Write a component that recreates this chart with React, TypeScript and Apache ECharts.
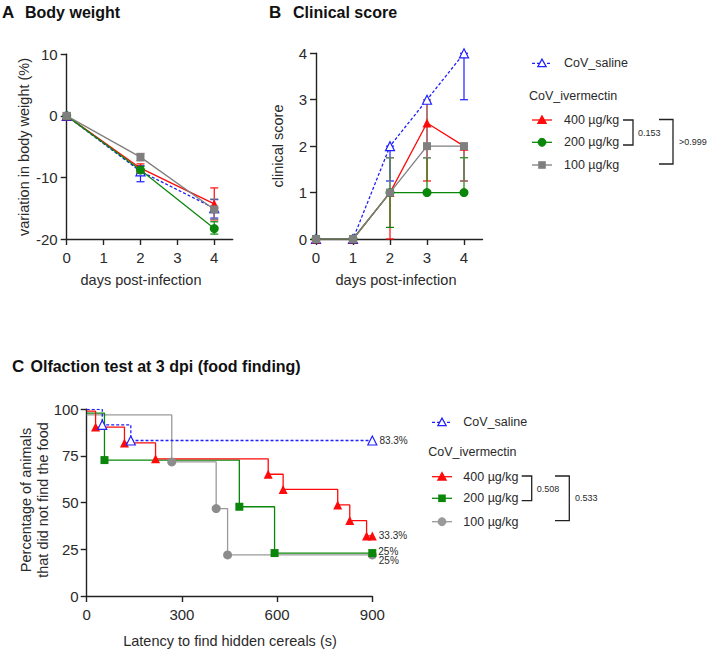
import React, { useEffect, useRef } from 'react';
import * as echarts from 'echarts';

const FONT = "'Liberation Sans', Arial, Helvetica, sans-serif";
const BLUE = '#1f1fff';
const RED = '#ff0a0a';
const GREEN = '#0a870a';
const GRAY = '#7f7f7f';
const GRAYC = '#9a9a9a';
const AX = '#222222';
const TXT = '#2a2a2a';

// ---------- Panel A: body weight ----------
const daysA = [0, 2, 4];
const xTicksAB = [0, 1, 2, 3, 4];
const bwSaline = [0, -9.0, -15.0];
const bwSalineLo = [0, -10.7, -16.6];
const bwSalineHi = [0, -8.1, -13.6];
const bw400 = [0, -8.5, -14.3];
const bw400Lo = [-0.5, -9.4, -16.9];
const bw400Hi = [0.5, -7.8, -11.7];
const bw200 = [0, -8.8, -18.3];
const bw200Lo = [0, -9.4, -19.2];
const bw200Hi = [0, -8.2, -17.2];
const bw100 = [0, -6.7, -15.2];
const bw100Lo = [0, -7.3, -16.8];
const bw100Hi = [0, -6.1, -13.5];

// ---------- Panel B: clinical score ----------
const daysB = [0, 1, 2, 3, 4];
const csSaline = [0, 0, 2, 3, 4];
const csSalineLo = [0, 0, 1.25, 3, 3];
const csSalineHi = [0, 0, 2, 3, 4];
const cs400 = [0, 0, 1, 2.5, 2];
const cs400Lo = [0, 0, 0, 1.25, 1.25];
const cs400Hi = [0, 0, 1, 3, 2];
const cs200 = [0, 0, 1, 1, 1];
const cs200Lo = [0, 0, 0.25, 1, 1];
const cs200Hi = [0, 0, 1.75, 1.75, 1.75];
const cs100 = [0, 0, 1, 2, 2];
const cs100Lo = [0, 0, 1, 1.75, 1.25];
const cs100Hi = [0, 0, 1.75, 3, 2];

// ---------- Panel C: olfaction (Kaplan-Meier) ----------
const tSaline = [0, 49, 139, 900];
const pSaline = [100, 91.7, 83.3, 83.3];
const t400 = [0, 28, 119, 217, 572, 619, 791, 829, 882, 900];
const p400 = [99, 90.5, 82, 73.5, 65.2, 57.1, 48.8, 40.4, 32.2, 32.2];
const t200 = [0, 56, 481, 592, 900];
const p200 = [98, 72.8, 47.8, 23, 23];
const t100 = [0, 268, 408, 444, 900];
const p100 = [97, 71.8, 46.8, 22, 22];
const endLabels = ['83.3%', '33.3%', '25%', '25%'];

const legendLabels = ['CoV_saline', 'CoV_ivermectin', '400 µg/kg', '200 µg/kg', '100 µg/kg'];
const pTop = ['0.153', '>0.999'];
const pBottom = ['0.508', '0.533'];

function errSeries(idx: number, xs: number[], lo: number[], hi: number[], color: string): any {
  return {
    type: 'custom',
    xAxisIndex: idx,
    yAxisIndex: idx,
    silent: true,
    z: 1,
    encode: { x: 0, y: [1, 2] },
    data: xs.map((x, i) => [x, lo[i], hi[i]]),
    renderItem: (_p: any, api: any) => {
      const x = api.value(0);
      const a = api.coord([x, api.value(1)]);
      const b = api.coord([x, api.value(2)]);
      const st = { stroke: color, lineWidth: 1.2 };
      if (Math.abs(a[1] - b[1]) < 0.5) return { type: 'group', children: [] };
      const w = 4;
      return {
        type: 'group',
        children: [
          { type: 'line', shape: { x1: a[0], y1: a[1], x2: b[0], y2: b[1] }, style: st },
          { type: 'line', shape: { x1: a[0] - w, y1: a[1], x2: a[0] + w, y2: a[1] }, style: st },
          { type: 'line', shape: { x1: b[0] - w, y1: b[1], x2: b[0] + w, y2: b[1] }, style: st },
        ],
      };
    },
  };
}

function lineSeries(idx: number, xs: number[], ys: number[], color: string, symbol: string, open: boolean, dashed: boolean, z: number): any {
  return {
    type: 'line',
    xAxisIndex: idx,
    yAxisIndex: idx,
    data: xs.map((x, i) => [x, ys[i]]),
    symbol,
    symbolSize: symbol === 'rect' ? 8 : 9,
    showSymbol: true,
    silent: true,
    z,
    lineStyle: { color, width: 1.3, type: dashed ? [3, 2] : 'solid' },
    itemStyle: open ? { color: '#ffffff', borderColor: color, borderWidth: 1.2 } : { color },
  };
}

function stepSeries(xs: number[], ys: number[], color: string, dashed: boolean, z: number): any {
  return {
    type: 'line',
    xAxisIndex: 2,
    yAxisIndex: 2,
    step: 'end',
    data: xs.map((x, i) => [x, ys[i]]),
    symbol: 'none',
    silent: true,
    z,
    lineStyle: { color, width: 1.3, type: dashed ? [3, 2] : 'solid' },
  };
}

function markerSeries(xs: number[], ys: number[], color: string, symbol: string, open: boolean, label: string, offY: number, z: number): any {
  const data: any[] = [];
  for (let i = 1; i < xs.length; i++) {
    const item: any = { value: [xs[i], ys[i]] };
    if (i === xs.length - 1) {
      item.label = {
        show: true,
        formatter: label,
        position: 'right',
        distance: 2,
        offset: [0, offY],
        color: TXT,
        fontSize: 10,
        fontFamily: FONT,
      };
    }
    data.push(item);
  }
  return {
    type: 'scatter',
    xAxisIndex: 2,
    yAxisIndex: 2,
    data,
    symbol,
    symbolSize: symbol === 'rect' ? 8 : 9,
    silent: true,
    z,
    itemStyle: open ? { color: '#ffffff', borderColor: color, borderWidth: 1.2, opacity: 1 } : { color, opacity: 1 },
  };
}

function axisBase(fontSize: number, margin: number, custom?: number[]): any {
  return {
    type: 'value',
    axisLine: { show: true, onZero: false, lineStyle: { color: AX, width: 1.4 } },
    axisTick: custom
      ? { show: true, length: 6, lineStyle: { color: AX, width: 1.4 }, customValues: custom }
      : { show: true, length: 6, lineStyle: { color: AX, width: 1.4 } },
    axisLabel: custom
      ? { color: TXT, fontSize, fontFamily: FONT, margin, customValues: custom }
      : { color: TXT, fontSize, fontFamily: FONT, margin },
    splitLine: { show: false },
  };
}

function txt(text: string, x: number, y: number, size: number, opts: any = {}): any {
  return {
    type: 'text',
    x,
    y,
    rotation: opts.rotation || 0,
    silent: true,
    style: {
      text,
      x: 0,
      y: 0,
      fill: opts.fill || TXT,
      font: `${opts.bold ? 'bold ' : ''}${size}px ${FONT}`,
      align: opts.align || 'left',
      verticalAlign: 'middle',
      textAlign: opts.align || 'left',
      textVerticalAlign: 'middle',
    },
  };
}

function legendSym(cx: number, cy: number, color: string, kind: string, open: boolean, dashed: boolean): any[] {
  const els: any[] = [
    {
      type: 'line',
      silent: true,
      shape: { x1: cx - 10, y1: cy, x2: cx + 10, y2: cy },
      style: { stroke: color, lineWidth: 1.3, lineDash: dashed ? [3, 2] : null },
    },
  ];
  const s = 4.2;
  const fill = open ? '#ffffff' : color;
  if (kind === 'triangle') {
    els.push({
      type: 'polygon',
      silent: true,
      shape: { points: [[cx, cy - s], [cx + s, cy + s * 0.8], [cx - s, cy + s * 0.8]] },
      style: { fill, stroke: color, lineWidth: 1.2 },
    });
  } else if (kind === 'circle') {
    els.push({ type: 'circle', silent: true, shape: { cx, cy, r: 4 }, style: { fill, stroke: color } });
  } else {
    els.push({ type: 'rect', silent: true, shape: { x: cx - 3.8, y: cy - 3.8, width: 7.6, height: 7.6 }, style: { fill } });
  }
  return els;
}

function bracket(x1: number, x2: number, y1: number, y2: number): any {
  return {
    type: 'polyline',
    silent: true,
    shape: { points: [[x1, y1], [x2, y1], [x2, y2], [x1, y2]] },
    style: { stroke: AX, lineWidth: 1.3, fill: null },
  };
}

function legendBlock(symX: number, textX: number, headX: number, ys: number[], kinds: string[], grayColor: string): any[] {
  const colors = [BLUE, RED, GREEN, grayColor];
  let els: any[] = [];
  els = els.concat(legendSym(symX, ys[0], BLUE, 'triangle', true, true));
  els.push(txt(legendLabels[0], textX, ys[0], 12.5));
  els.push(txt(legendLabels[1], headX, ys[1], 12.5));
  for (let i = 0; i < 3; i++) {
    els = els.concat(legendSym(symX, ys[i + 2], colors[i + 1], kinds[i], false, false));
    els.push(txt(legendLabels[i + 2], textX, ys[i + 2], 12.5));
  }
  return els;
}

export default function App() {
  const ref = useRef<HTMLDivElement>(null);
  useEffect(() => {
    document.body.style.margin = '0';
    if (!ref.current) return;
    const chart = echarts.init(ref.current, undefined, { renderer: 'svg' });

    const graphics: any[] = [
      // titles
      txt('A', 2, 12, 17, { bold: true, fill: '#111' }),
      txt('Body weight', 25, 12, 16, { bold: true, fill: '#111' }),
      txt('B', 269, 12, 17, { bold: true, fill: '#111' }),
      txt('Clinical score', 293, 12, 16, { bold: true, fill: '#111' }),
      txt('C', 12, 366.5, 17, { bold: true, fill: '#111' }),
      txt('Olfaction test at 3 dpi (food finding)', 30.5, 366.5, 16, { bold: true, fill: '#111' }),
      // axis names
      txt('variation in body weight (%)', 24, 147, 14.5, { rotation: Math.PI / 2, align: 'center' }),
      txt('days post-infection', 141, 280, 14.5, { align: 'center' }),
      txt('clinical score', 278, 146, 14.5, { rotation: Math.PI / 2, align: 'center' }),
      txt('days post-infection', 396, 280, 14.5, { align: 'center' }),
      txt('Percentage of animals', 26, 500, 14.5, { rotation: Math.PI / 2, align: 'center' }),
      txt('that did not find the food', 43, 500, 14.5, { rotation: Math.PI / 2, align: 'center' }),
      txt('Latency to find hidden cereals (s)', 230, 641, 14.5, { align: 'center' }),
      // top legend
      ...legendBlock(542, 564, 529, [63.3, 95.7, 120, 142.3, 165], ['triangle', 'circle', 'rect'], GRAY),
      bracket(623, 633, 120, 145),
      bracket(659, 673, 119.5, 164),
      txt(pTop[0], 638, 133, 9),
      txt(pTop[1], 679, 142, 9),
      // bottom legend
      ...legendBlock(442, 463.3, 428.3, [422.3, 452.3, 476.7, 498.3, 521.7], ['triangle', 'rect', 'circle'], GRAYC),
      bracket(521.7, 531.7, 476, 500.7),
      bracket(555, 569.3, 476, 520.7),
      txt(pBottom[0], 536.7, 489, 9),
      txt(pBottom[1], 575, 498, 9),
    ];

    const option: any = {
      animation: false,
      textStyle: { fontFamily: FONT },
      grid: [
        { left: 66.7, top: 54.3, width: 166, height: 184.7 },
        { left: 316, top: 53.3, width: 166.5, height: 185.7 },
        { left: 86.7, top: 409.3, width: 285.6, height: 186.7 },
      ],
      xAxis: [
        { ...axisBase(15, 11, xTicksAB), gridIndex: 0, min: 0, max: 4.5, interval: 1 },
        { ...axisBase(15, 11, xTicksAB), gridIndex: 1, min: 0, max: 4.5, interval: 1 },
        { ...axisBase(15, 11), gridIndex: 2, min: 0, max: 900, interval: 300 },
      ],
      yAxis: [
        { ...axisBase(15, 9), gridIndex: 0, min: -20, max: 10, interval: 10 },
        { ...axisBase(15, 9), gridIndex: 1, min: 0, max: 4, interval: 1 },
        { ...axisBase(15, 8), gridIndex: 2, min: 0, max: 100, interval: 25 },
      ],
      series: [
        // A
        errSeries(0, daysA, bwSalineLo, bwSalineHi, BLUE),
        errSeries(0, daysA, bw400Lo, bw400Hi, RED),
        errSeries(0, daysA, bw200Lo, bw200Hi, GREEN),
        errSeries(0, daysA, bw100Lo, bw100Hi, GRAY),
        lineSeries(0, daysA, bwSaline, BLUE, 'triangle', true, true, 3),
        lineSeries(0, daysA, bw400, RED, 'triangle', false, false, 4),
        lineSeries(0, daysA, bw200, GREEN, 'circle', false, false, 5),
        lineSeries(0, daysA, bw100, GRAY, 'rect', false, false, 6),
        // B
        errSeries(1, daysB, csSalineLo, csSalineHi, BLUE),
        errSeries(1, daysB, cs400Lo, cs400Hi, RED),
        errSeries(1, daysB, cs200Lo, cs200Hi, GREEN),
        errSeries(1, daysB, cs100Lo, cs100Hi, GRAY),
        lineSeries(1, daysB, csSaline, BLUE, 'triangle', true, true, 3),
        lineSeries(1, daysB, cs400, RED, 'triangle', false, false, 4),
        lineSeries(1, daysB, cs200, GREEN, 'circle', false, false, 5),
        lineSeries(1, daysB, cs100, GRAY, 'rect', false, false, 6),
        // C
        stepSeries(t100, p100, GRAYC, false, 2),
        stepSeries(t200, p200, GREEN, false, 3),
        stepSeries(t400, p400, RED, false, 4),
        stepSeries(tSaline, pSaline, BLUE, true, 5),
        markerSeries(t100, p100, '#8c8c8c', 'circle', false, endLabels[3], 6, 6),
        markerSeries(t200, p200, GREEN, 'rect', false, endLabels[2], -2, 7),
        markerSeries(t400, p400, RED, 'triangle', false, endLabels[1], 0, 8),
        markerSeries(tSaline, pSaline, BLUE, 'triangle', true, endLabels[0], 0, 9),
      ],
      graphic: { elements: graphics },
    };
    chart.setOption(option);
    return () => chart.dispose();
  }, []);
  return <div ref={ref} style={{ width: 709, height: 656 }} />;
}
